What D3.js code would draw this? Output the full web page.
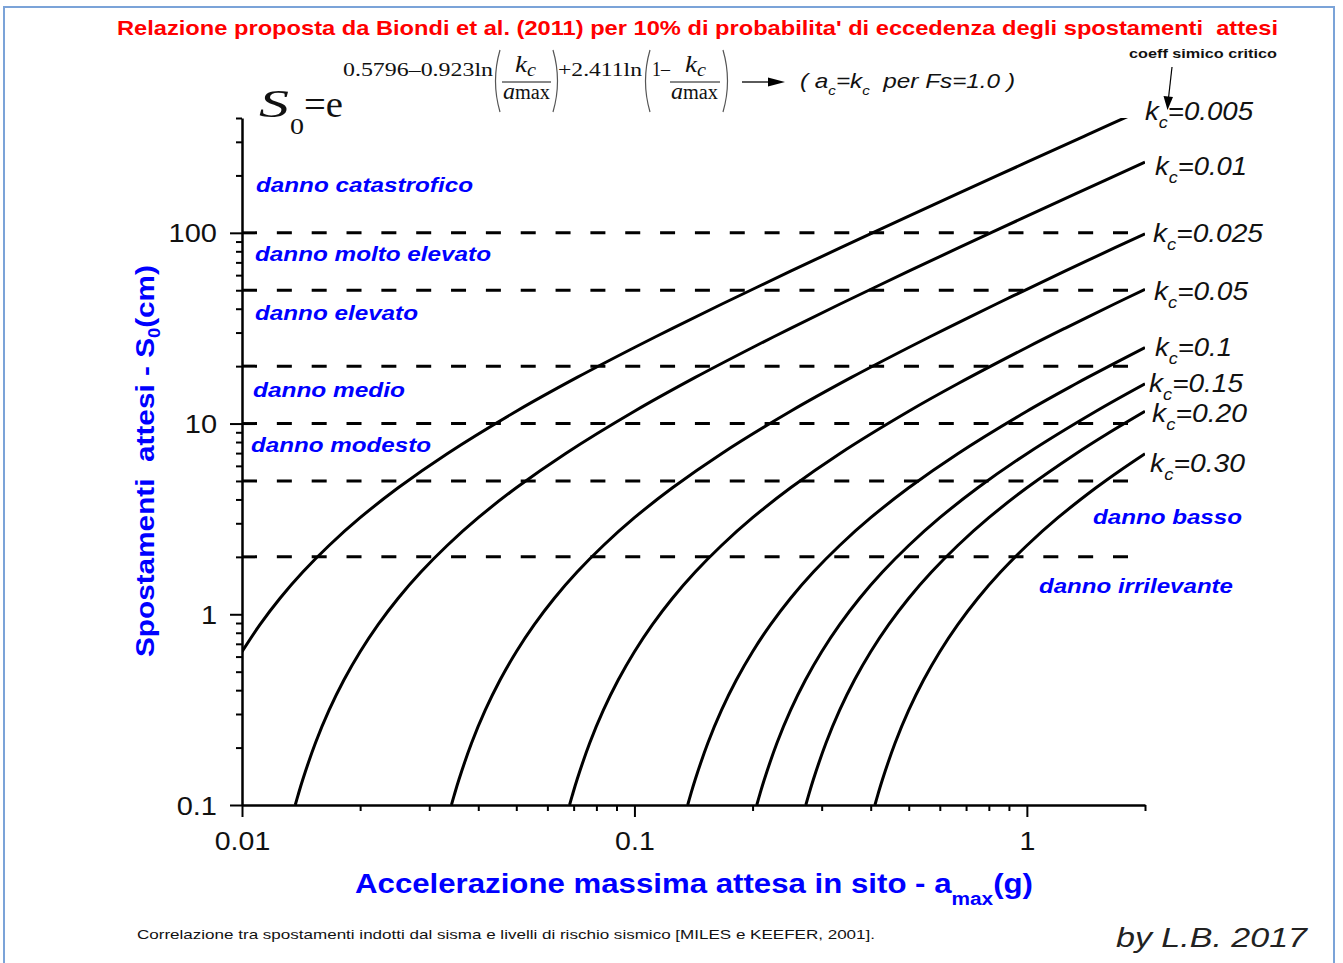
<!DOCTYPE html>
<html><head><meta charset="utf-8">
<script src="https://cdn.jsdelivr.net/npm/d3@7"></script>
<style>
body{margin:0;background:#fff}
svg{display:block}
text{font-family:"Liberation Sans",Arial,sans-serif;white-space:pre}
.serif{font-family:"Liberation Serif","Times New Roman",serif}
</style>
</head><body>
<svg id="chart" width="1343" height="963"></svg>
<script>
// ---------------- DATA ----------------
const kcValues = [0.005, 0.01, 0.025, 0.05, 0.1, 0.15, 0.20, 0.30];
const curveLabels = ["0.005", "0.01", "0.025", "0.05", "0.1", "0.15", "0.20", "0.30"];

// [amax (g), S0 (cm)]
const curveKc0005 = [[0.01,0.6365],[0.011111,0.8827],[0.0125,1.214],[0.014286,1.665],[0.016667,2.295],[0.02,3.208],[0.025,4.605],[0.033333,6.951],[0.05,11.60],[0.071429,17.45],[0.1,25.05],[0.125,31.57],[0.166667,42.21],[0.25,62.92],[0.333333,83.05],[0.5,122.3],[0.666667,160.4],[1.0,234.6],[1.428571,327.3],[2.0,447.6]];
const curveKc001 = [[0.013669,0.1],[0.013889,0.1123],[0.014286,0.1361],[0.015385,0.2114],[0.016667,0.3141],[0.018182,0.4521],[0.02,0.6365],[0.022222,0.8827],[0.025,1.214],[0.028571,1.665],[0.033333,2.295],[0.04,3.208],[0.05,4.605],[0.066667,6.951],[0.1,11.60],[0.142857,17.45],[0.2,25.05],[0.25,31.57],[0.333333,42.21],[0.5,62.92],[0.666667,83.05],[1.0,122.3],[1.333333,160.4],[2.0,234.6]];
const curveKc0025 = [[0.034172,0.1],[0.034722,0.1123],[0.035714,0.1361],[0.038462,0.2114],[0.041667,0.3141],[0.045455,0.4521],[0.05,0.6365],[0.055556,0.8827],[0.0625,1.214],[0.071429,1.665],[0.083333,2.295],[0.1,3.208],[0.125,4.605],[0.166667,6.951],[0.25,11.60],[0.357143,17.45],[0.5,25.05],[0.625,31.57],[0.833333,42.21],[1.0,50.57],[1.25,62.92],[1.666667,83.05],[2.0,98.9]];
const curveKc005 = [[0.068343,0.1],[0.069444,0.1123],[0.071429,0.1361],[0.076923,0.2114],[0.083333,0.3141],[0.090909,0.4521],[0.1,0.6365],[0.111111,0.8827],[0.125,1.214],[0.142857,1.665],[0.166667,2.295],[0.2,3.208],[0.25,4.605],[0.333333,6.951],[0.5,11.60],[0.666667,16.16],[1.0,25.05],[1.25,31.57],[1.666667,42.21],[2.0,50.57]];
const curveKc01 = [[0.136687,0.1],[0.138889,0.1123],[0.142857,0.1361],[0.153846,0.2114],[0.166667,0.3141],[0.181818,0.4521],[0.2,0.6365],[0.222222,0.8827],[0.25,1.214],[0.285714,1.665],[0.333333,2.295],[0.4,3.208],[0.5,4.605],[0.666667,6.951],[1.0,11.60],[1.333333,16.16],[1.428571,17.45],[2.0,25.05]];
const curveKc015 = [[0.20503,0.1],[0.208333,0.1123],[0.214286,0.1361],[0.230769,0.2114],[0.25,0.3141],[0.272727,0.4521],[0.3,0.6365],[0.333333,0.8827],[0.375,1.214],[0.428571,1.665],[0.5,2.295],[0.6,3.208],[0.75,4.605],[1.0,6.951],[1.5,11.60],[2.0,16.16]];
const curveKc020 = [[0.273373,0.1],[0.277778,0.1123],[0.285714,0.1361],[0.307692,0.2114],[0.333333,0.3141],[0.363636,0.4521],[0.4,0.6365],[0.444444,0.8827],[0.5,1.214],[0.571429,1.665],[0.666667,2.295],[0.8,3.208],[1.0,4.605],[1.333333,6.951],[1.6,8.819],[2.0,11.60]];
const curveKc030 = [[0.41006,0.1],[0.416667,0.1123],[0.428571,0.1361],[0.461538,0.2114],[0.5,0.3141],[0.545455,0.4521],[0.6,0.6365],[0.666667,0.8827],[0.75,1.214],[0.857143,1.665],[1.0,2.295],[1.2,3.208],[1.5,4.605],[1.714286,5.610],[2.0,6.951]];
const curves = [curveKc0005, curveKc001, curveKc0025, curveKc005, curveKc01, curveKc015, curveKc020, curveKc030];

const damageThresholds = [2, 5, 10, 20, 50, 100];
const damageLabels = ["danno catastrofico", "danno molto elevato", "danno elevato", "danno medio", "danno modesto", "danno basso", "danno irrilevante"];

const xMajorTicks = [0.01, 0.1, 1];
const xTickLabels = ["0.01", "0.1", "1"];
const xMinorTicks = [0.02,0.03,0.04,0.05,0.06,0.07,0.08,0.09,0.2,0.3,0.4,0.5,0.6,0.7,0.8,0.9,2];
const yMajorTicks = [0.1, 1, 10, 100];
const yTickLabels = ["0.1", "1", "10", "100"];
const yMinorTicks = [0.2,0.3,0.4,0.5,0.6,0.7,0.8,0.9,2,3,4,5,6,7,8,9,20,30,40,50,60,70,80,90,200,300,400];

// ---------------- LAYOUT ----------------
const W = 1343, H = 963;
const plot = {left: 242, right: 1145, top: 118, bottom: 805};
const curveLabelPos = [[1145,120,108],[1155,175,92],[1153,242,110],[1154,300,94],[1155,356,77],[1149,392,94],[1152,422,95],[1150,472,95]];
const damageLabelPos = [[256,192,217],[255,261,236],[255,320,163],[253,397,152],[251,452,180],[1093,524,149],[1039,593,194]];

const svg = d3.select("#chart");
svg.append("rect").attr("width", W).attr("height", H).attr("fill", "#fff");
svg.append("rect").attr("x", 4).attr("y", 7).attr("width", 1330).attr("height", 1000)
  .attr("fill", "none").attr("stroke", "#7ba3d8").attr("stroke-width", 2);

const x = d3.scaleLog().domain([0.01, 2]).range([plot.left, plot.right]);
const y = d3.scaleLog().domain([0.1, 400]).range([plot.bottom, plot.top]);

function stretch(sel, f) {
  sel.each(function(){ const w = this.getComputedTextLength(); d3.select(this).attr("textLength", w * f).attr("lengthAdjust", "spacingAndGlyphs"); });
}

// clip
svg.append("clipPath").attr("id", "clip").append("rect")
  .attr("x", plot.left).attr("y", plot.top).attr("width", plot.right - plot.left).attr("height", plot.bottom - plot.top);

// dashed threshold lines
svg.append("g").selectAll("line").data(damageThresholds).join("line")
  .attr("x1", x(0.01)).attr("x2", x(2))
  .attr("y1", d => y(d)).attr("y2", d => y(d))
  .attr("stroke", "#000").attr("stroke-width", 3).attr("stroke-dasharray", "15,19.84");

// curves
const line = d3.line().x(d => x(d[0])).y(d => y(d[1])).curve(d3.curveCatmullRom.alpha(0.5));
svg.append("g").attr("clip-path", "url(#clip)").selectAll("path").data(curves).join("path")
  .attr("d", line).attr("fill", "none").attr("stroke", "#000").attr("stroke-width", 3).attr("stroke-linecap", "butt");

// axes
const gxMinor = svg.append("g").attr("transform", `translate(0,${plot.bottom})`)
  .call(d3.axisBottom(x).tickValues(xMinorTicks).tickSize(6).tickSizeOuter(0).tickFormat(""));
gxMinor.select(".domain").remove();
const gx = svg.append("g").attr("transform", `translate(0,${plot.bottom})`)
  .call(d3.axisBottom(x).tickValues(xMajorTicks).tickSize(12).tickSizeOuter(0).tickFormat((d, i) => xTickLabels[i]));
const gyMinor = svg.append("g").attr("transform", `translate(${plot.left},0)`)
  .call(d3.axisLeft(y).tickValues(yMinorTicks).tickSize(6).tickSizeOuter(0).tickFormat(""));
gyMinor.select(".domain").remove();
const gy = svg.append("g").attr("transform", `translate(${plot.left},0)`)
  .call(d3.axisLeft(y).tickValues(yMajorTicks).tickSize(12).tickSizeOuter(0).tickFormat((d, i) => yTickLabels[i]));

[gx, gy, gxMinor, gyMinor].forEach(g => {
  g.selectAll(".tick line").attr("stroke", "#000").attr("stroke-width", 2);
  g.select(".domain").attr("stroke", "#000").attr("stroke-width", 2.5);
  g.attr("font-family", null).attr("font-size", null);
});
gx.selectAll(".tick text").attr("y", 45).attr("dy", 0).attr("font-size", 25).attr("fill", "#111");
gy.selectAll(".tick text").attr("x", -25).attr("dy", "0.36em").attr("font-size", 25).attr("fill", "#111");
stretch(gx.selectAll(".tick text"), 1.14);
stretch(gy.selectAll(".tick text"), 1.16);

// curve labels
curveLabels.forEach((lab, i) => {
  const [px, py, w] = curveLabelPos[i];
  const t = svg.append("text").attr("x", px).attr("y", py).attr("font-size", 26).attr("font-style", "italic").attr("fill", "#111")
    .attr("textLength", w).attr("lengthAdjust", "spacingAndGlyphs");
  t.append("tspan").text("k");
  t.append("tspan").attr("font-size", 17).attr("dy", 8).text("c");
  t.append("tspan").attr("dy", -8).text("=" + lab);
});

// damage labels
damageLabels.forEach((lab, i) => {
  const [px, py, w] = damageLabelPos[i];
  svg.append("text").attr("x", px).attr("y", py).attr("font-size", 20).attr("font-weight", "bold").attr("font-style", "italic")
    .attr("fill", "#0000ff").attr("textLength", w).attr("lengthAdjust", "spacingAndGlyphs").text(lab);
});

// title
svg.append("text").attr("x", 117).attr("y", 35).attr("font-size", 21).attr("font-weight", "bold").attr("fill", "#ff0000")
  .attr("textLength", 1161).attr("lengthAdjust", "spacingAndGlyphs")
  .text("Relazione proposta da Biondi et al. (2011) per 10% di probabilita' di eccedenza degli spostamenti  attesi");

// formula
const f = svg.append("g").attr("fill", "#111");
function st(px, py, s, size, opts = {}) {
  const t = f.append("text").attr("class", "serif").attr("x", px).attr("y", py).attr("font-size", size).text(s);
  if (opts.italic) t.attr("font-style", "italic");
  if (opts.w) t.attr("textLength", opts.w).attr("lengthAdjust", "spacingAndGlyphs");
  return t;
}
st(259, 117, "S", 40, {italic: true, w: 30});
st(290, 134, "0", 24, {w: 14});
st(304, 117, "=e", 37, {w: 39});
st(343, 76, "0.5796–0.923ln", 19, {w: 150});
st(515, 72, "k", 24, {italic: true, w: 12});
st(527, 76, "c", 18, {italic: true, w: 9});
st(503, 99, "a", 24, {italic: true, w: 12});
st(515, 99, "max", 20, {w: 35});
st(558, 76, "+2.411ln", 19, {w: 84});
st(652, 76, "1–", 20, {w: 18});
st(685, 72, "k", 24, {italic: true, w: 12});
st(697, 76, "c", 18, {italic: true, w: 9});
st(671, 99, "a", 24, {italic: true, w: 12});
st(683, 99, "max", 20, {w: 35});
[[502, 551], [670, 720]].forEach(([a, b]) => f.append("line").attr("x1", a).attr("x2", b).attr("y1", 82).attr("y2", 82).attr("stroke", "#111").attr("stroke-width", 1));
[["M500,50 Q491,81 500,112"], ["M553,50 Q562,81 553,112"], ["M650,50 Q641,81 650,112"], ["M723,50 Q732,81 723,112"]]
  .forEach(([d]) => f.append("path").attr("d", d).attr("fill", "none").attr("stroke", "#555").attr("stroke-width", 1.2));

// arrow + condition
svg.append("line").attr("x1", 742).attr("x2", 772).attr("y1", 82).attr("y2", 82).attr("stroke", "#000").attr("stroke-width", 1.3);
svg.append("path").attr("d", "M785,82 L768,77.5 L768,86.5 Z").attr("fill", "#000");
const cond = svg.append("text").attr("x", 800).attr("y", 88).attr("font-size", 21).attr("font-style", "italic").attr("fill", "#111")
  .attr("textLength", 215).attr("lengthAdjust", "spacingAndGlyphs");
cond.append("tspan").text("( a");
cond.append("tspan").attr("font-size", 13).attr("dy", 7).text("c");
cond.append("tspan").attr("dy", -7).text("=k");
cond.append("tspan").attr("font-size", 13).attr("dy", 7).text("c");
cond.append("tspan").attr("dy", -7).text("  per Fs=1.0 )");

// coeff annotation
svg.append("text").attr("x", 1129).attr("y", 58).attr("font-size", 13).attr("font-weight", "bold").attr("fill", "#111")
  .attr("textLength", 148).attr("lengthAdjust", "spacingAndGlyphs").text("coeff simico critico");
svg.append("line").attr("x1", 1172).attr("y1", 67).attr("x2", 1168.5).attr("y2", 98).attr("stroke", "#000").attr("stroke-width", 1.2);
svg.append("path").attr("d", "M1167.5,110 L1163.5,96 L1173,97 Z").attr("fill", "#000");

// axis titles
const yt = svg.append("text").attr("transform", "translate(154,461) rotate(-90)").attr("text-anchor", "middle")
  .attr("font-size", 26).attr("font-weight", "bold").attr("fill", "#0000ff")
  .attr("textLength", 392).attr("lengthAdjust", "spacingAndGlyphs");
yt.append("tspan").text("Spostamenti  attesi - S");
yt.append("tspan").attr("font-size", 16).attr("dy", 6).text("0");
yt.append("tspan").attr("dy", -6).text("(cm)");

const xt = svg.append("text").attr("x", 355).attr("y", 893).attr("font-size", 27).attr("font-weight", "bold").attr("fill", "#0000ff")
  .attr("textLength", 678).attr("lengthAdjust", "spacingAndGlyphs");
xt.append("tspan").text("Accelerazione massima attesa in sito - a");
xt.append("tspan").attr("font-size", 18).attr("dy", 12).text("max");
xt.append("tspan").attr("dy", -12).text("(g)");

// footer
svg.append("text").attr("x", 137).attr("y", 939).attr("font-size", 13).attr("fill", "#111")
  .attr("textLength", 738).attr("lengthAdjust", "spacingAndGlyphs")
  .text("Correlazione tra spostamenti indotti dal sisma e livelli di rischio sismico [MILES e KEEFER, 2001].");
svg.append("text").attr("x", 1116).attr("y", 947).attr("font-size", 28).attr("font-style", "italic").attr("fill", "#222")
  .attr("textLength", 191).attr("lengthAdjust", "spacingAndGlyphs").text("by L.B. 2017");
</script>
</body></html>
